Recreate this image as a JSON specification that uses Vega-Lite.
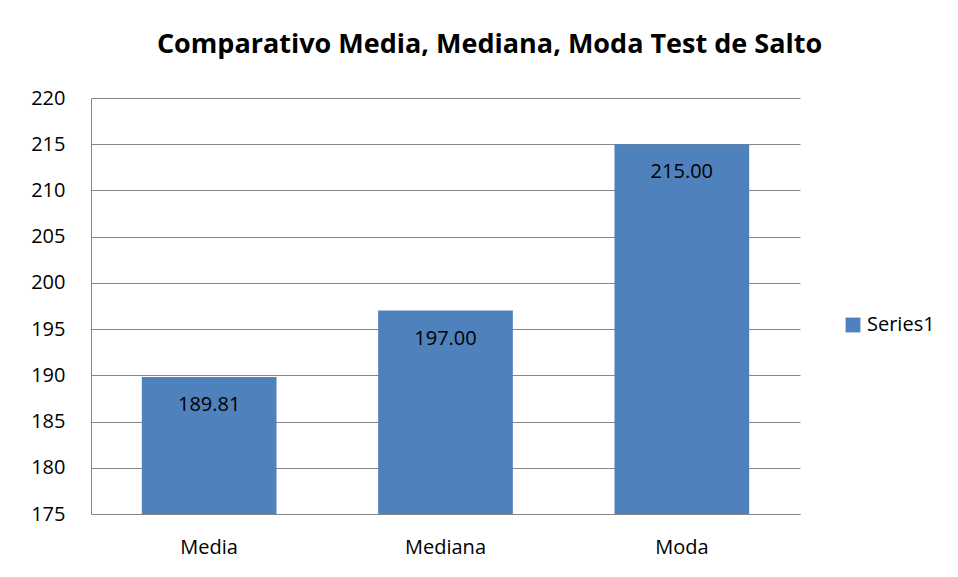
{
  "$schema": "https://vega.github.io/schema/vega-lite/v6.json",
  "autosize": {"type": "none"},
  "width": 709,
  "height": 416,
  "padding": {"left": 91, "top": 98, "right": 158, "bottom": 63},
  "background": "white",
  "title": {
    "text": "Comparativo Media, Mediana, Moda Test de Salto",
    "font": "Open Sans",
    "fontSize": 27,
    "fontWeight": "bold",
    "color": "#000000",
    "anchor": "middle",
    "dx": 44,
    "offset": 29
  },
  "data": {
    "values": [
      {"categoria": "Media", "valor": 189.81, "serie": "Series1"},
      {"categoria": "Mediana", "valor": 197.0, "serie": "Series1"},
      {"categoria": "Moda", "valor": 215.0, "serie": "Series1"}
    ]
  },
  "config": {
    "view": {"stroke": null},
    "font": "Open Sans"
  },
  "encoding": {
    "x": {
      "field": "categoria",
      "type": "nominal",
      "sort": null,
      "scale": {"paddingInner": 0.43, "paddingOuter": 0.215},
      "axis": {
        "title": null,
        "labelAngle": 0,
        "labelFontSize": 20,
        "labelColor": "#000000",
        "labelFont": "Open Sans",
        "labelPadding": 23,
        "ticks": false,
        "domainColor": "#868686",
        "domainWidth": 1
      }
    },
    "y": {
      "field": "valor",
      "type": "quantitative",
      "scale": {"domain": [175, 220], "nice": false, "zero": false},
      "axis": {
        "title": null,
        "values": [175, 180, 185, 190, 195, 200, 205, 210, 215, 220],
        "labelFontSize": 20,
        "labelColor": "#000000",
        "labelFont": "Open Sans",
        "labelPadding": 26,
        "ticks": false,
        "grid": true,
        "gridColor": "#868686",
        "gridWidth": 1,
        "domainColor": "#868686",
        "domainWidth": 1
      }
    }
  },
  "layer": [
    {
      "mark": {"type": "bar", "clip": true},
      "encoding": {
        "y2": {"datum": 175},
        "color": {
          "field": "serie",
          "type": "nominal",
          "scale": {"range": ["#4F81BD"]},
          "legend": {
            "title": null,
            "orient": "none",
            "legendX": 752,
            "legendY": 217,
            "symbolType": "square",
            "symbolSize": 220,
            "symbolStrokeWidth": 0,
            "labelFontSize": 20,
            "labelColor": "#000000",
            "labelFont": "Open Sans",
            "labelOffset": 4
          }
        }
      }
    },
    {
      "mark": {"type": "text", "baseline": "top", "dy": 18, "fontSize": 20, "color": "#000000", "font": "Open Sans"},
      "encoding": {
        "text": {"field": "valor", "type": "quantitative", "format": ".2f"}
      }
    }
  ]
}
